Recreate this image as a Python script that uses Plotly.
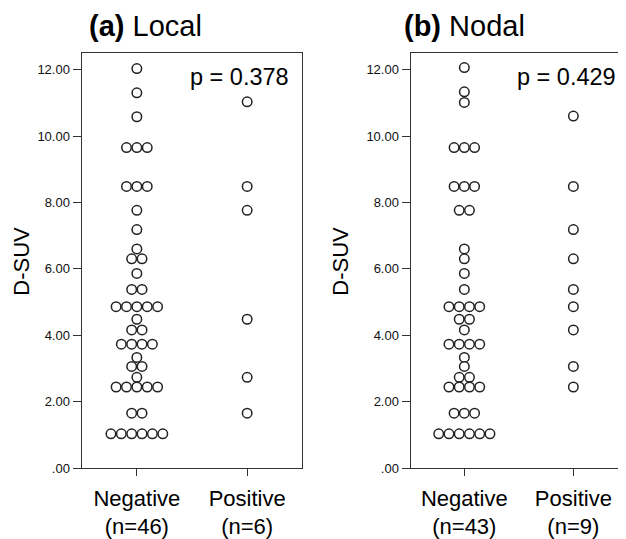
import plotly.graph_objects as go
from collections import Counter

# ---- data (D-SUV values) ----
categories = ["Negative", "Positive"]
local_negative = [12.03, 11.3, 10.58, 9.65, 9.65, 9.65, 8.48, 8.48, 8.48, 7.76, 7.18,
                  6.6, 6.3, 6.3, 5.86, 5.38, 5.38, 4.86, 4.86, 4.86, 4.86, 4.86,
                  4.48, 4.16, 4.16, 3.73, 3.73, 3.73, 3.73, 3.33, 3.06, 3.06, 2.73,
                  2.44, 2.44, 2.44, 2.44, 2.44, 1.65, 1.65,
                  1.03, 1.03, 1.03, 1.03, 1.03, 1.03]
local_positive = [11.03, 8.48, 7.76, 4.48, 2.73, 1.65]
nodal_negative = [12.06, 11.33, 11.01, 9.65, 9.65, 9.65, 8.48, 8.48, 8.48, 7.76, 7.76,
                  6.6, 6.3, 5.86, 5.38, 4.86, 4.86, 4.86, 4.86, 4.48, 4.48, 4.16,
                  3.73, 3.73, 3.73, 3.73, 3.33, 3.06, 2.73, 2.73,
                  2.44, 2.44, 2.44, 2.44, 1.65, 1.65, 1.65,
                  1.03, 1.03, 1.03, 1.03, 1.03, 1.03]
nodal_positive = [10.6, 8.48, 7.18, 6.3, 5.38, 4.86, 4.16, 3.06, 2.44]
tick_vals = [0, 2, 4, 6, 8, 10, 12]
tick_text = [".00", "2.00", "4.00", "6.00", "8.00", "10.00", "12.00"]
panel_titles = ["<b>(a)</b> Local", "<b>(b)</b> Nodal"]
p_values = ["p = 0.378", "p = 0.429"]
n_labels = [["(n=46)", "(n=6)"], ["(n=43)", "(n=9)"]]

FONT = "Arial, Liberation Sans, sans-serif"
DOT_STEP = 0.094  # horizontal spacing of stacked dots (category units)
OFF = 8           # page body margin (px)
W, H = 626 - OFF, 539 - OFF


def dot_positions(values, center):
    counts = Counter(values)
    seen = Counter()
    xs, ys = [], []
    for v in values:
        k = counts[v]
        i = seen[v]
        seen[v] += 1
        xs.append(center + (i - (k - 1) / 2) * DOT_STEP)
        ys.append(v)
    return xs, ys


fig = go.Figure()
panels = [(local_negative, local_positive), (nodal_negative, nodal_positive)]
for p, (neg, pos) in enumerate(panels):
    xa = "x" if p == 0 else "x2"
    ya = "y" if p == 0 else "y2"
    for c, vals in enumerate([neg, pos]):
        xs, ys = dot_positions(vals, c)
        fig.add_trace(go.Scatter(
            x=xs, y=ys, mode="markers", xaxis=xa, yaxis=ya, showlegend=False,
            marker=dict(symbol="circle", size=9.5, color="white",
                        line=dict(color="#222", width=1.5)),
            cliponaxis=False,
        ))

# screen pixel positions of the plot areas
TOP_S, BOT_S = 53.3, 468.3
H_TOP = TOP_S - OFF
H_BOT = H - (BOT_S - OFF)

def sx(pix):
    return (pix - OFF) / W

axis_line = dict(showline=True, linecolor="#333", linewidth=1.3, showgrid=False,
                 zeroline=False, ticks="outside", tickcolor="#333", tickwidth=1.3)

for p in range(2):
    sfx = "" if p == 0 else "2"
    dom = [sx(81.7), sx(302.3)] if p == 0 else [sx(410.7), 1.0]
    rng = [-0.5, 1.5] if p == 0 else [-0.492, 1.483]
    fig.layout["xaxis" + sfx] = dict(
        domain=dom, range=rng, tickvals=[0, 1],
        ticktext=[f"{categories[i]}<br>{n_labels[p][i]}" for i in range(2)],
        ticklen=7, mirror=True, automargin=False, ticklabelstandoff=3,
        tickfont=dict(family=FONT, size=22, color="black"), **axis_line)
    yd = dict(range=[0, 12.5], tickvals=tick_vals, ticktext=tick_text,
              ticklen=8, automargin=False, mirror=(p == 0),
              tickfont=dict(family=FONT, size=13, color="#111"), **axis_line)
    if p == 1:
        yd["anchor"] = "x2"
        fig.layout["xaxis2"]["anchor"] = "y2"
    fig.layout["yaxis" + sfx] = yd

ph = BOT_S - TOP_S
def sy(pix):
    return (BOT_S - pix) / ph

annots = []
for p in range(2):
    annots.append(dict(text=panel_titles[p], x=sx(87 if p == 0 else 402), y=sy(26),
                       xref="paper", yref="paper", xanchor="left", yanchor="middle",
                       showarrow=False, font=dict(family=FONT, size=29, color="black")))
    annots.append(dict(text=p_values[p], x=sx(188 if p == 0 else 515), y=sy(77),
                       xref="paper", yref="paper", xanchor="left", yanchor="middle",
                       showarrow=False, font=dict(family=FONT, size=23.5, color="black")))
    annots.append(dict(text="D-SUV", x=sx(22 if p == 0 else 341), y=sy(262),
                       xref="paper", yref="paper", xanchor="center", yanchor="middle",
                       textangle=-90, showarrow=False,
                       font=dict(family=FONT, size=22, color="black")))

fig.update_layout(
    width=W, height=H,
    margin=dict(l=0, r=0, t=H_TOP, b=H_BOT),
    paper_bgcolor="white", plot_bgcolor="white",
    annotations=annots,
)

fig.write_html("out.html")
